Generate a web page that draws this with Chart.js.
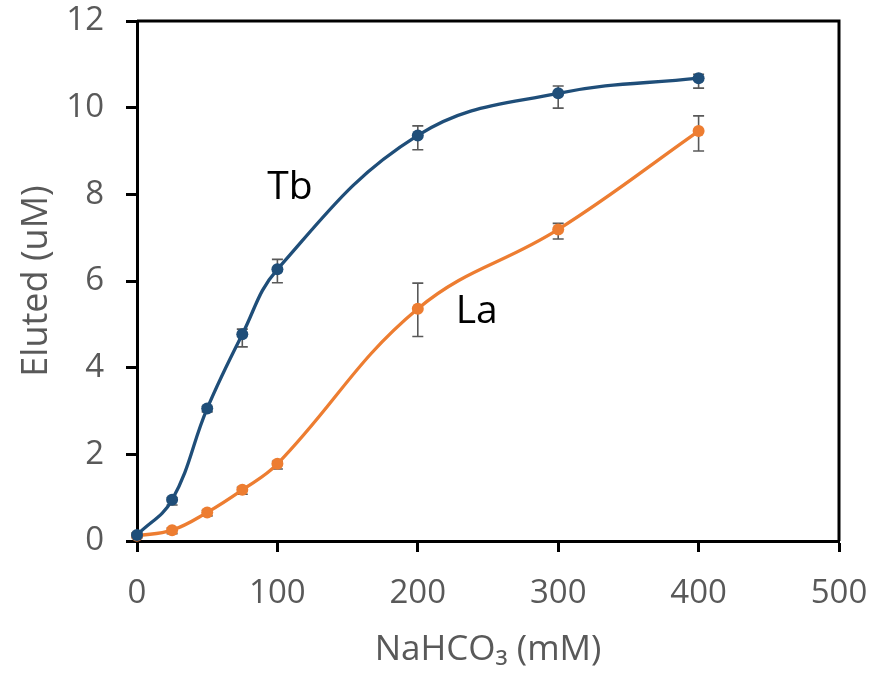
<!DOCTYPE html>
<html>
<head>
<meta charset="utf-8">
<script src="https://cdn.jsdelivr.net/npm/chart.js@4.4.1/dist/chart.umd.min.js"></script>
<style>
  html, body { margin: 0; padding: 0; background: #fff; }
</style>
</head>
<body>
<canvas id="elutionChart" width="886" height="673"></canvas>
<script>
// NaHCO3 concentration (mM)
const concentrations = [0, 25, 50, 75, 100, 200, 300, 400];

// Eluted Tb (uM) with error bars (up / down)
const tbValues   = [0.14, 0.95, 3.06, 4.77, 6.27, 9.36, 10.33, 10.68];
const tbErrUp    = [0.05, 0.05, 0.05, 0.12, 0.23, 0.22, 0.17, 0.09];
const tbErrDown  = [0.05, 0.12, 0.08, 0.29, 0.31, 0.33, 0.34, 0.23];

// Eluted La (uM) with error bars (up / down)
const laValues   = [0.12, 0.25, 0.66, 1.18, 1.78, 5.36, 7.19, 9.46];
const laErrUp    = [0.05, 0.05, 0.05, 0.06, 0.06, 0.59, 0.14, 0.35];
const laErrDown  = [0.05, 0.08, 0.08, 0.1, 0.12, 0.64, 0.22, 0.46];

const xTicks = [0, 100, 200, 300, 400, 500];
const yTicks = [0, 2, 4, 6, 8, 10, 12];

// series name labels, placed in data units
const seriesLabels = [
  { text: 'Tb', x: 109, y: 8.15 },
  { text: 'La', x: 242, y: 5.28 }
];

const TB_COLOR = '#1F4E79';
const LA_COLOR = '#ED7D31';
const FONT = "'Open Sans', 'DejaVu Sans', sans-serif";

function toPoints(values) {
  return concentrations.map((c, i) => ({ x: c, y: values[i] }));
}

// error bars drawn through the scales
const errorBarPlugin = {
  id: 'errorBars',
  beforeDatasetsDraw(chart) {
    const ctx = chart.ctx;
    const xs = chart.scales.x;
    const ys = chart.scales.y;
    const sets = [
      { vals: tbValues, up: tbErrUp, down: tbErrDown },
      { vals: laValues, up: laErrUp, down: laErrDown }
    ];
    ctx.save();
    ctx.strokeStyle = '#595959';
    ctx.lineWidth = 1.6;
    sets.forEach(s => {
      s.vals.forEach((v, i) => {
        const px = xs.getPixelForValue(concentrations[i]);
        const top = ys.getPixelForValue(v + s.up[i]);
        const bot = ys.getPixelForValue(v - s.down[i]);
        ctx.beginPath();
        ctx.moveTo(px, top); ctx.lineTo(px, bot);
        ctx.moveTo(px - 5.5, top); ctx.lineTo(px + 5.5, top);
        ctx.moveTo(px - 5.5, bot); ctx.lineTo(px + 5.5, bot);
        ctx.stroke();
      });
    });
    ctx.restore();
  }
};

// frame around plot area plus series name labels
const framePlugin = {
  id: 'frame',
  afterDraw(chart) {
    const ctx = chart.ctx;
    const a = chart.chartArea;
    ctx.save();
    ctx.strokeStyle = '#000';
    ctx.lineWidth = 3;
    ctx.beginPath();
    ctx.moveTo(a.left, a.top);
    ctx.lineTo(a.right, a.top);
    ctx.lineTo(a.right, a.bottom);
    ctx.stroke();
    ctx.fillStyle = '#000';
    ctx.font = '39px ' + FONT;
    ctx.textAlign = 'center';
    ctx.textBaseline = 'middle';
    seriesLabels.forEach(l => {
      ctx.fillText(l.text, chart.scales.x.getPixelForValue(l.x), chart.scales.y.getPixelForValue(l.y));
    });
    ctx.restore();
  }
};

const ctx = document.getElementById('elutionChart').getContext('2d');
const elutionChart = new Chart(ctx, {
  type: 'scatter',
  data: {
    datasets: [
      {
        label: 'Tb',
        data: toPoints(tbValues),
        showLine: true,
        borderColor: TB_COLOR,
        backgroundColor: TB_COLOR,
        borderWidth: 3.3,
        pointRadius: 6,
        pointBorderWidth: 0,
        tension: 0.4,
        clip: false
      },
      {
        label: 'La',
        data: toPoints(laValues),
        showLine: true,
        borderColor: LA_COLOR,
        backgroundColor: LA_COLOR,
        borderWidth: 3.3,
        pointRadius: 6,
        pointBorderWidth: 0,
        tension: 0.4,
        clip: false
      }
    ]
  },
  options: {
    responsive: false,
    animation: false,
    layout: { padding: { left: 0, right: 47, top: 21, bottom: 0 } },
    plugins: {
      legend: { display: false },
      tooltip: { enabled: false }
    },
    scales: {
      x: {
        type: 'linear',
        min: 0,
        max: 500,
        afterBuildTicks: axis => { axis.ticks = xTicks.map(v => ({ value: v })); },
        afterFit: axis => { axis.height = 132; axis.paddingLeft = 0; axis.paddingRight = 0; },
        grid: { display: true, drawOnChartArea: false, drawTicks: true, tickLength: 11, tickWidth: 3, tickColor: '#000' },
        border: { display: true, color: '#000', width: 3 },
        ticks: { color: '#595959', font: { family: FONT, size: 33 }, padding: 22, maxRotation: 0 },
        title: { display: true, text: 'NaHCO\u2083 (mM)', color: '#595959', font: { family: FONT, size: 35 }, padding: { top: 0, bottom: 2 } }
      },
      y: {
        min: 0,
        max: 12,
        afterBuildTicks: axis => { axis.ticks = yTicks.map(v => ({ value: v })); },
        afterFit: axis => { axis.width = 137; axis.paddingTop = 0; axis.paddingBottom = 0; },
        grid: { display: true, drawOnChartArea: false, drawTicks: true, tickLength: 11, tickWidth: 3, tickColor: '#000' },
        border: { display: true, color: '#000', width: 3 },
        ticks: { color: '#595959', font: { family: FONT, size: 33 }, padding: 22 },
        title: { display: true, text: 'Eluted (uM)', color: '#595959', font: { family: FONT, size: 36 }, padding: { top: 15, bottom: 0 } }
      }
    }
  },
  plugins: [errorBarPlugin, framePlugin]
});
</script>
</body>
</html>
